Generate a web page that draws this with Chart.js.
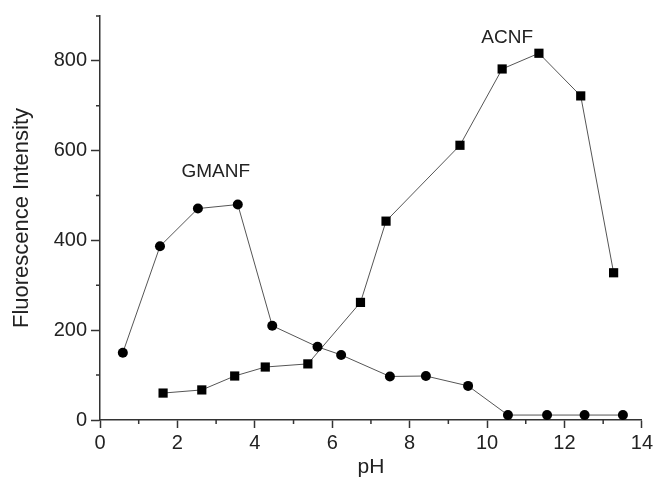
<!DOCTYPE html>
<html>
<head>
<meta charset="utf-8">
<script src="https://cdn.jsdelivr.net/npm/chart.js@4.4.1/dist/chart.umd.min.js"></script>
<style>
  html, body { margin: 0; padding: 0; background: #fff; }
  #wrap { width: 656px; height: 489px; }
</style>
</head>
<body>
<div id="wrap"><canvas id="chart" width="656" height="489"></canvas></div>
<script>
// ============================== DATA ==============================
const gmanfPH = [0.59, 1.55, 2.53, 3.56, 4.45, 5.62, 6.23, 7.49, 8.42, 9.51, 10.54, 11.55, 12.52, 13.51];
const gmanfIntensity = [150, 387, 471, 480, 210, 163, 145, 97, 98, 76, 11, 11, 11, 11];

const acnfPH = [1.63, 2.63, 3.48, 4.27, 5.37, 6.73, 7.39, 9.30, 10.39, 11.34, 12.42, 13.27];
const acnfIntensity = [60, 67, 98, 118, 125, 262, 443, 612, 782, 817, 722, 328];

const xTickLabels = [0, 2, 4, 6, 8, 10, 12, 14];
const yTickLabels = [0, 200, 400, 600, 800];

// series names with the data point where each name sits
const seriesLabels = [
    { text: "GMANF", x: 2.99, y: 552 },
    { text: "ACNF", x: 10.52, y: 851 }
];

const FONT = "'Liberation Sans', Arial, sans-serif";
const AXIS_COLOR = "#333";

function toPoints(xs, ys) {
    return xs.map((x, i) => ({ x: x, y: ys[i] }));
}

// minor ticks are shorter than the labelled ones
const minorTicks = {
    id: "minorTicks",
    afterDraw(chart) {
        const ctx = chart.ctx;
        const xs = chart.scales.x, ys = chart.scales.y;
        ctx.save();
        ctx.strokeStyle = AXIS_COLOR;
        ctx.lineWidth = 1.5;
        ctx.beginPath();
        xs.ticks.forEach(t => {
            if (xTickLabels.includes(t.value)) return;
            const px = xs.getPixelForValue(t.value);
            ctx.moveTo(px, xs.top);
            ctx.lineTo(px, xs.top + 4);
        });
        ys.ticks.forEach(t => {
            if (yTickLabels.includes(t.value)) return;
            const py = ys.getPixelForValue(t.value);
            ctx.moveTo(ys.right, py);
            ctx.lineTo(ys.right - 4, py);
        });
        ctx.stroke();

        ctx.fillStyle = "#222";
        ctx.font = "19px " + FONT;
        ctx.textAlign = "center";
        ctx.textBaseline = "middle";
        seriesLabels.forEach(l => {
            ctx.fillText(l.text, xs.getPixelForValue(l.x), ys.getPixelForValue(l.y));
        });
        ctx.restore();
    }
};

new Chart(document.getElementById("chart").getContext("2d"), {
    type: "scatter",
    data: {
        datasets: [
            {
                label: "GMANF",
                data: toPoints(gmanfPH, gmanfIntensity),
                showLine: true,
                borderColor: "#555",
                borderWidth: 1,
                pointStyle: "circle",
                pointRadius: 5,
                pointBackgroundColor: "#000",
                pointBorderColor: "#000",
                pointBorderWidth: 0
            },
            {
                label: "ACNF",
                data: toPoints(acnfPH, acnfIntensity),
                showLine: true,
                borderColor: "#555",
                borderWidth: 1,
                pointStyle: "rect",
                pointRadius: 6.5,
                pointBackgroundColor: "#000",
                pointBorderColor: "#000",
                pointBorderWidth: 0
            }
        ]
    },
    options: {
        responsive: false,
        animation: false,
        layout: { padding: { left: 0, right: 13, top: 16, bottom: 0 } },
        plugins: { legend: { display: false }, tooltip: { enabled: false } },
        scales: {
            x: {
                type: "linear",
                min: 0, max: 14,
                afterFit: s => { s.height = 69; },
                border: { display: true, color: AXIS_COLOR, width: 1.5 },
                grid: {
                    drawOnChartArea: false,
                    drawTicks: true,
                    tickLength: 8,
                    tickWidth: 1.5,
                    tickColor: c => xTickLabels.includes(c.tick.value) ? AXIS_COLOR : "rgba(0,0,0,0)"
                },
                ticks: {
                    stepSize: 1,
                    autoSkip: false,
                    maxRotation: 0,
                    padding: 3,
                    color: "#222",
                    font: { family: FONT, size: 20 },
                    callback: v => xTickLabels.includes(v) ? String(v) : ""
                },
                title: {
                    display: true,
                    text: "pH",
                    color: "#222",
                    font: { family: FONT, size: 21 },
                    padding: { top: 0, bottom: 9 }
                }
            },
            y: {
                type: "linear",
                min: 0, max: 900,
                afterFit: s => { s.width = 100; },
                border: { display: true, color: AXIS_COLOR, width: 1.5 },
                grid: {
                    drawOnChartArea: false,
                    drawTicks: true,
                    tickLength: 9,
                    tickWidth: 1.5,
                    tickColor: c => yTickLabels.includes(c.tick.value) ? AXIS_COLOR : "rgba(0,0,0,0)"
                },
                ticks: {
                    stepSize: 100,
                    autoSkip: false,
                    padding: 4,
                    color: "#222",
                    font: { family: FONT, size: 20 },
                    callback: v => yTickLabels.includes(v) ? String(v) : ""
                },
                title: {
                    display: true,
                    text: "Fluorescence Intensity",
                    color: "#222",
                    font: { family: FONT, size: 22 },
                    padding: { top: 9, bottom: 0 }
                }
            }
        }
    },
    plugins: [minorTicks]
});
</script>
</body>
</html>
